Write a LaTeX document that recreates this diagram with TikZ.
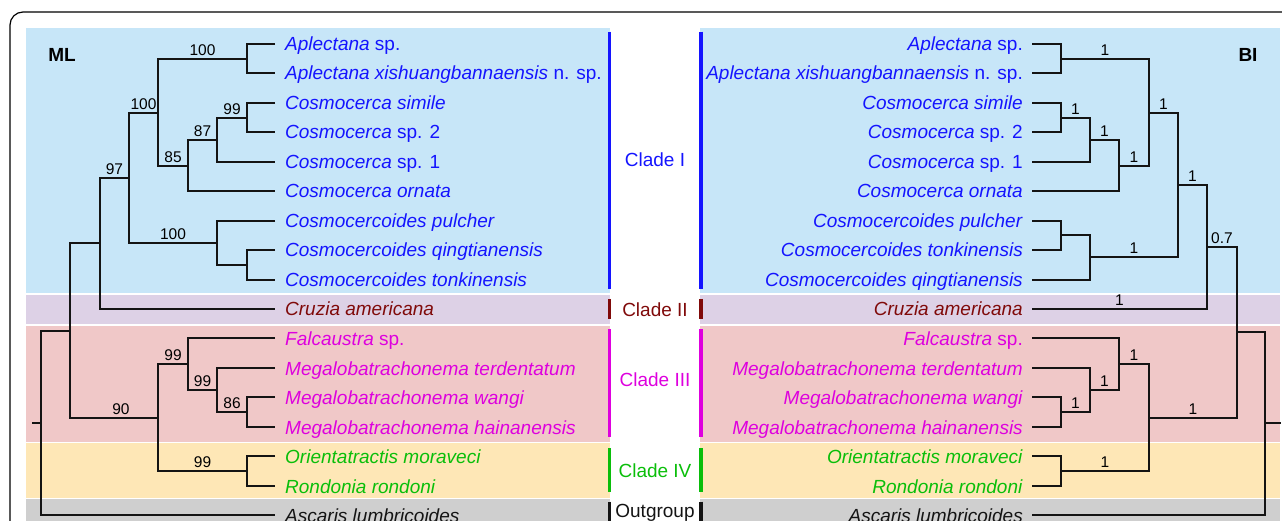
\documentclass[tikz,border=0pt]{standalone}
\usepackage{fontspec}
\setmainfont{Liberation Sans}
\definecolor{bandblue}{RGB}{199,230,248}
\definecolor{bandpurple}{RGB}{221,209,230}
\definecolor{bandred}{RGB}{240,200,200}
\definecolor{bandyellow}{RGB}{254,231,182}
\definecolor{bandgray}{RGB}{207,207,207}
\definecolor{cI}{RGB}{20,20,255}
\definecolor{cII}{RGB}{128,10,10}
\definecolor{cIII}{RGB}{222,0,222}
\definecolor{cIV}{RGB}{10,190,10}
\definecolor{cOut}{RGB}{20,20,20}
\begin{document}
\begin{tikzpicture}[x=1pt,y=-1pt,
  br/.style={line width=2pt, draw=black!92},
  taxon/.style={inner sep=0pt, font=\fontsize{19}{23}\selectfont},
  supp/.style={inner sep=0pt, font=\fontsize{15.5}{18}\selectfont, anchor=base, yshift=3.5pt, midway},
  cladelbl/.style={inner sep=0pt, anchor=base, font=\fontsize{19}{23}\selectfont},
  cladebar/.style={line width=3.5pt},
  method/.style={inner sep=0pt, font=\fontsize{19}{23}\selectfont\bfseries}]
\useasboundingbox (0,0) rectangle (1282,521);
\clip (0,0) rectangle (1282,521);

% outer frame
\draw[line width=1.2pt, rounded corners=13pt] (10,12) rectangle (1320,580);

% coloured bands, left and right
\foreach \xa/\xb in {26/610, 700/1280}{
  \fill[bandblue]   (\xa,28)    rectangle (\xb,293.3);
  \fill[bandpurple] (\xa,295)   rectangle (\xb,323.5);
  \fill[bandred]    (\xa,325.5) rectangle (\xb,441.8);
  \fill[bandyellow] (\xa,443.4) rectangle (\xb,497.5);
  \fill[bandgray]   (\xa,499.3) rectangle (\xb,540);
}

% leaf tips (rows on whole pixels)
\foreach \i/\y in {1/44,2/73,3/103,4/132,5/162,6/191,7/221,8/250,9/280,
                   10/309,11/338,12/368,13/397,14/427,15/456,16/486,17/515}{
  \coordinate (L\i) at (275,\y);
  \coordinate (R\i) at (1032,\y);
}

% ---------------- ML tree ----------------
\coordinate (mA) at (247,59);
\coordinate (mB) at (247,118);
\coordinate (mC) at (217,140);
\coordinate (mD) at (188,166);
\coordinate (mE) at (158,113);
\coordinate (mF) at (247,265);
\coordinate (mG) at (217,243);
\coordinate (mH) at (129,178);
\coordinate (mI) at (100,243);
\coordinate (mJ) at (247,412);
\coordinate (mK) at (217,390);
\coordinate (mL) at (188,364);
\coordinate (mM) at (247,471);
\coordinate (mN) at (158,418);
\coordinate (mO) at (70,331);
\coordinate (mR) at (41,423);
\coordinate (mS) at (32,423);

\draw[br] (L1) -| (mA) |- (L2);
\draw[br] (L3) -| (mB) |- (L4);
\draw[br] (mB) -| (mC) |- (L5);
\draw[br] (mC) -| (mD) |- (L6);
\draw[br] (mA) -| (mE) |- (mD);
\draw[br] (L8) -| (mF) |- (L9);
\draw[br] (L7) -| (mG) |- (mF);
\draw[br] (mE) -| (mH) |- (mG);
\draw[br] (mH) -| (mI) |- (L10);
\draw[br] (L13) -| (mJ) |- (L14);
\draw[br] (L12) -| (mK) |- (mJ);
\draw[br] (L11) -| (mL) |- (mK);
\draw[br] (L15) -| (mM) |- (L16);
\draw[br] (mL) -| (mN) |- (mM);
\draw[br] (mI) -| (mO) |- (mN);
\draw[br] (mO) -| (mR) |- (L17);
\draw[br] (mR) -- (mS);

\path (mA) -- (mA -| mE) node[supp] {100};
\path (mB) -- (mB -| mC) node[supp] {99};
\path (mC) -- (mC -| mD) node[supp] {87};
\path (mD) -- (mD -| mE) node[supp] {85};
\path (mE) -- (mE -| mH) node[supp] {100};
\path (mG) -- (mG -| mH) node[supp] {100};
\path (mH) -- (mH -| mI) node[supp] {97};
\path (mJ) -- (mJ -| mK) node[supp] {86};
\path (mK) -- (mK -| mL) node[supp] {99};
\path (mL) -- (mL -| mN) node[supp] {99};
\path (mM) -- (mM -| mN) node[supp] {99};
\path (mN) -- (mN -| mO) node[supp, xshift=7pt] {90};

% ---------------- BI tree ----------------
\coordinate (bA) at (1061,59);
\coordinate (bB) at (1061,118);
\coordinate (bC) at (1090,140);
\coordinate (bD) at (1119,166);
\coordinate (bE) at (1149,113);
\coordinate (bF) at (1061,235);
\coordinate (bG) at (1090,257);
\coordinate (bH) at (1178,185);
\coordinate (bI) at (1207,247);
\coordinate (bJ) at (1061,412);
\coordinate (bK) at (1090,390);
\coordinate (bL) at (1119,364);
\coordinate (bM) at (1061,471);
\coordinate (bN) at (1149,418);
\coordinate (bO) at (1237,332);
\coordinate (bR) at (1265,423);
\coordinate (bS) at (1281,423);

\draw[br] (R1) -| (bA) |- (R2);
\draw[br] (R3) -| (bB) |- (R4);
\draw[br] (bB) -| (bC) |- (R5);
\draw[br] (bC) -| (bD) |- (R6);
\draw[br] (bA) -| (bE) |- (bD);
\draw[br] (R7) -| (bF) |- (R8);
\draw[br] (bF) -| (bG) |- (R9);
\draw[br] (bE) -| (bH) |- (bG);
\draw[br] (bH) -| (bI) |- (R10);
\draw[br] (R13) -| (bJ) |- (R14);
\draw[br] (R12) -| (bK) |- (bJ);
\draw[br] (R11) -| (bL) |- (bK);
\draw[br] (R15) -| (bM) |- (R16);
\draw[br] (bL) -| (bN) |- (bM);
\draw[br] (bI) -| (bO) |- (bN);
\draw[br] (bO) -| (bR) |- (R17);
\draw[br] (bR) -- (bS);

\path (bA) -- (bA -| bE) node[supp] {1};
\path (bB) -- (bB -| bC) node[supp] {1};
\path (bC) -- (bC -| bD) node[supp] {1};
\path (bD) -- (bD -| bE) node[supp] {1};
\path (bE) -- (bE -| bH) node[supp] {1};
\path (bG) -- (bG -| bH) node[supp] {1};
\path (bH) -- (bH -| bI) node[supp] {1};
\path (bI) -- (bI -| bO) node[supp] {0.7};
\path (R10) -- (R10 -| bI) node[supp] {1};
\path (bJ) -- (bJ -| bK) node[supp] {1};
\path (bK) -- (bK -| bL) node[supp] {1};
\path (bL) -- (bL -| bN) node[supp] {1};
\path (bM) -- (bM -| bN) node[supp] {1};
\path (bN) -- (bN -| bO) node[supp] {1};

% ---------------- taxon names ----------------
\foreach \i/\t/\c in {
  1/{\textit{Aplectana} sp.}/cI,
  2/{\textit{Aplectana xishuangbannaensis} n. sp.}/cI,
  3/{\textit{Cosmocerca simile}}/cI,
  4/{\textit{Cosmocerca} sp. 2}/cI,
  5/{\textit{Cosmocerca} sp. 1}/cI,
  6/{\textit{Cosmocerca ornata}}/cI,
  7/{\textit{Cosmocercoides pulcher}}/cI,
  8/{\textit{Cosmocercoides qingtianensis}}/cI,
  9/{\textit{Cosmocercoides tonkinensis}}/cI,
  10/{\textit{Cruzia americana}}/cII,
  11/{\textit{Falcaustra} sp.}/cIII,
  12/{\textit{Megalobatrachonema terdentatum}}/cIII,
  13/{\textit{Megalobatrachonema wangi}}/cIII,
  14/{\textit{Megalobatrachonema hainanensis}}/cIII,
  15/{\textit{Orientatractis moraveci}}/cIV,
  16/{\textit{Rondonia rondoni}}/cIV,
  17/{\textit{Ascaris lumbricoides}}/cOut}{
  \node[taxon, anchor=base west, text=\c] (tl\i) at ([shift={(10,7)}]L\i) {\t};
}
\foreach \i/\t/\c in {
  1/{\textit{Aplectana} sp.}/cI,
  2/{\textit{Aplectana xishuangbannaensis} n. sp.}/cI,
  3/{\textit{Cosmocerca simile}}/cI,
  4/{\textit{Cosmocerca} sp. 2}/cI,
  5/{\textit{Cosmocerca} sp. 1}/cI,
  6/{\textit{Cosmocerca ornata}}/cI,
  7/{\textit{Cosmocercoides pulcher}}/cI,
  8/{\textit{Cosmocercoides tonkinensis}}/cI,
  9/{\textit{Cosmocercoides qingtianensis}}/cI,
  10/{\textit{Cruzia americana}}/cII,
  11/{\textit{Falcaustra} sp.}/cIII,
  12/{\textit{Megalobatrachonema terdentatum}}/cIII,
  13/{\textit{Megalobatrachonema wangi}}/cIII,
  14/{\textit{Megalobatrachonema hainanensis}}/cIII,
  15/{\textit{Orientatractis moraveci}}/cIV,
  16/{\textit{Rondonia rondoni}}/cIV,
  17/{\textit{Ascaris lumbricoides}}/cOut}{
  \node[taxon, anchor=base east, text=\c] (tr\i) at ([shift={(-9,7)}]R\i) {\t};
}

% ---------------- method labels ----------------
\node[method] (ml) at (62,55) {ML};
\node[method] (bi) at (1248,55) {BI};

% ---------------- clade bars and names ----------------
\foreach \n/\ya/\yb/\c in {I/31.7/288.7/cI, II/299/319.3/cII, III/329.3/437.3/cIII, IV/448.3/491.7/cIV, O/501.7/530/cOut}{
  \coordinate (la\n) at (609.5,\ya);
  \coordinate (lb\n) at (609.5,\yb);
  \coordinate (ra\n) at (701,\ya);
  \coordinate (rb\n) at (701,\yb);
  \draw[cladebar, \c] (la\n) -- (lb\n);
  \draw[cladebar, \c] (ra\n) -- (rb\n);
}
\node[cladelbl, text=cI]   (cladeI)   at (655,166.7) {Clade I};
\node[cladelbl, text=cII]  (cladeII)  at (655,316.2) {Clade II};
\node[cladelbl, text=cIII] (cladeIII) at (655,386.8) {Clade III};
\node[cladelbl, text=cIV]  (cladeIV)  at (655,477.2) {Clade IV};
\node[cladelbl, text=cOut] (cladeO)   at (655,517.7) {Outgroup};
\end{tikzpicture}
\end{document}
